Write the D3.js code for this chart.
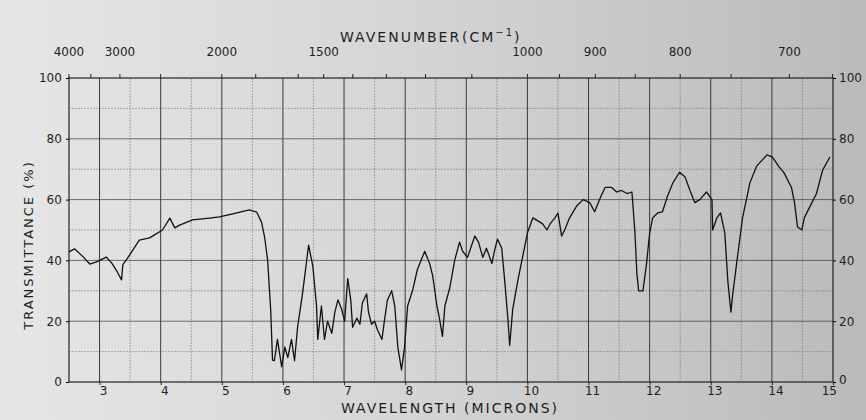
<!DOCTYPE html>
<html>

<head>
    <meta charset="UTF-8">
    <title>IR spectrum</title>
    <style>
        body {
            margin: 0;
            background: #d4d4d4;
        }

        svg text {
            font-family: "DejaVu Sans", sans-serif;
            fill: #1e1e1e;
        }

        .grid-major {
            stroke: #3a3a3a;
            stroke-width: 1;
        }

        .grid-minor {
            stroke: #7a7a7a;
            stroke-width: 0.6;
            stroke-dasharray: 2 1;
        }

        .spectrum {
            fill: none;
            stroke: #111;
            stroke-width: 1.3;
            stroke-linejoin: round;
        }
    </style>
</head>

<body>
    <div class="chartBox"></div>

    <script src="https://d3js.org/d3.v7.min.js"></script>
    <script>
        // wavelength (microns) and transmittance (%)
        const wavelength = [
            2.50, 2.59, 2.72, 2.84, 2.95, 3.11, 3.20, 3.29, 3.36, 3.38, 3.46, 3.65, 3.82, 4.03, 4.15, 4.23,
            4.31, 4.52, 4.80, 4.96, 5.18, 5.45, 5.57, 5.65, 5.70, 5.75, 5.80, 5.83, 5.86, 5.91, 5.98, 6.03,
            6.08, 6.14, 6.19, 6.24, 6.32, 6.42, 6.49, 6.55, 6.57, 6.63, 6.68, 6.73, 6.80, 6.85, 6.90, 6.96,
            7.01, 7.06, 7.11, 7.14, 7.21, 7.26, 7.30, 7.37, 7.40, 7.45, 7.50, 7.55, 7.62, 7.66, 7.71, 7.78,
            7.83, 7.88, 7.94, 7.99, 8.04, 8.12, 8.20, 8.32, 8.40, 8.45, 8.52, 8.56, 8.61, 8.65, 8.73, 8.81,
            8.89, 8.94, 9.02, 9.14, 9.20, 9.27, 9.33, 9.42, 9.46, 9.51, 9.58, 9.63, 9.68, 9.71, 9.76, 9.84,
            9.92, 10.00, 10.09, 10.17, 10.25, 10.32, 10.37, 10.45, 10.50, 10.56, 10.61, 10.69, 10.81, 10.91, 11.02, 11.10,
            11.18, 11.27, 11.38, 11.46, 11.54, 11.63, 11.71, 11.72, 11.76, 11.79, 11.82, 11.89, 11.95, 12.00, 12.05, 12.13,
            12.21, 12.29, 12.38, 12.49, 12.58, 12.66, 12.74, 12.82, 12.93, 13.02, 13.03, 13.10, 13.16, 13.23, 13.28, 13.33,
            13.36, 13.43, 13.52, 13.64, 13.75, 13.92, 14.01, 14.12, 14.20, 14.32, 14.37, 14.42, 14.49, 14.53, 14.62, 14.73,
            14.83, 14.95
        ];
        const transmittance = [
            42.8, 43.8, 41.4, 38.8, 39.5, 41.1, 39.1, 36.2, 33.6, 38.5, 40.8, 46.7, 47.4, 50.0, 53.9, 50.7,
            51.6, 53.3, 53.9, 54.3, 55.3, 56.6, 55.9, 52.6, 47.7, 40.1, 23.7, 7.2, 7, 14, 5, 11.5,
            8, 14, 7, 18, 29, 45, 38, 25, 14, 25, 14, 20, 16, 23, 27, 24,
            20, 34, 27, 18, 21, 19, 26, 29, 23, 19, 20, 17, 14, 20, 27, 30,
            25, 11.5, 4, 11.5, 25, 30, 37, 43, 39, 35, 25, 21, 15, 25, 31, 40,
            46, 43, 41, 48, 46, 41, 44, 39, 43, 47, 44, 33, 21, 12, 24, 33,
            41, 49, 54, 53, 52, 50, 52, 54, 55.6, 48, 50, 54, 58, 60, 59, 56,
            60, 64, 64, 62.5, 63, 62, 62.5, 60, 49, 36, 30, 30, 39, 49, 54, 55.6,
            56, 61, 65.5, 69, 67.4, 63, 59, 60, 62.5, 60, 50, 54, 55.6, 49, 33, 23,
            29, 40, 54, 65.5, 71, 74.7, 74, 70.7, 68.8, 64, 59, 51, 50, 54, 57.6, 62,
            69.7, 74
        ];

        // axis ticks
        const micronTicks = [3, 4, 5, 6, 7, 8, 9, 10, 11, 12, 13, 14, 15];
        const percentTicks = [0, 20, 40, 60, 80, 100];
        const wavenumberLabels = [4000, 3000, 2000, 1500, 1000, 900, 800, 700];
        const wavenumberTicks = [4000, 3500, 3000, 2500, 2000, 1800, 1600, 1500, 1400, 1300, 1200, 1100,
            1000, 950, 900, 850, 800, 750, 700, 667];

        // Dimensions
        const width = 866, height = 420,
            plot = { left: 69, right: 833, top: 78, bottom: 382 };

        const svg = d3.select(".chartBox")
            .append("svg")
            .attr("width", width)
            .attr("height", height);

        // scanned paper tone, darker to the right
        const grad = svg.append("defs").append("linearGradient")
            .attr("id", "paper");
        grad.append("stop").attr("offset", "0%").attr("stop-color", "#e6e6e6");
        grad.append("stop").attr("offset", "45%").attr("stop-color", "#d6d6d6");
        grad.append("stop").attr("offset", "100%").attr("stop-color", "#bababa");
        svg.append("rect")
            .attr("width", width)
            .attr("height", height)
            .attr("fill", "url(#paper)");

        // scales
        const x = d3.scaleLinear()
            .domain([2.5, 15])
            .range([plot.left, plot.right]);

        const y = d3.scaleLinear()
            .domain([0, 100])
            .range([plot.bottom, plot.top]);

        // grid
        const grid = svg.append("g");
        grid.selectAll(".vminor")
            .data(d3.range(3.5, 15, 1))
            .enter().append("line")
            .attr("class", "grid-minor")
            .attr("x1", d => x(d)).attr("x2", d => x(d))
            .attr("y1", plot.top).attr("y2", plot.bottom);
        grid.selectAll(".hminor")
            .data(d3.range(10, 100, 20))
            .enter().append("line")
            .attr("class", "grid-minor")
            .attr("x1", plot.left).attr("x2", plot.right)
            .attr("y1", d => y(d)).attr("y2", d => y(d));
        grid.selectAll(".vmajor")
            .data(micronTicks.slice(0, -1))
            .enter().append("line")
            .attr("class", "grid-major")
            .attr("x1", d => x(d)).attr("x2", d => x(d))
            .attr("y1", plot.top).attr("y2", plot.bottom);
        grid.selectAll(".hmajor")
            .data(percentTicks.slice(1, -1))
            .enter().append("line")
            .attr("class", "grid-major")
            .attr("stroke-opacity", 0.7)
            .attr("x1", plot.left).attr("x2", plot.right)
            .attr("y1", d => y(d)).attr("y2", d => y(d));

        // frame
        svg.append("rect")
            .attr("x", plot.left)
            .attr("y", plot.top)
            .attr("width", plot.right - plot.left)
            .attr("height", plot.bottom - plot.top)
            .attr("fill", "none")
            .attr("stroke", "#222")
            .attr("stroke-width", 1.2);

        // spectrum
        const points = wavelength.map((w, i) => [w, transmittance[i]]);
        svg.append("path")
            .datum(points)
            .attr("class", "spectrum")
            .attr("d", d3.line().x(d => x(d[0])).y(d => y(d[1])));

        // bottom axis: wavelength
        svg.append("g")
            .attr("transform", `translate(0, ${plot.bottom})`)
            .call(d3.axisBottom(x).tickValues(micronTicks).tickSize(3).tickFormat(d3.format("d")))
            .call(g => g.select(".domain").remove())
            .call(g => g.selectAll("line").attr("stroke", "#222"))
            .call(g => g.selectAll("text").attr("font-size", 12).attr("dy", "0.55em")
                .attr("dx", d => d === 15 ? "-0.35em" : "0.3em")
                .style("font-family", "DejaVu Sans, sans-serif"));

        // top axis: wavenumber
        const topAxis = svg.append("g")
            .attr("transform", `translate(0, ${plot.top})`);
        topAxis.selectAll("line")
            .data(wavenumberTicks)
            .enter().append("line")
            .attr("x1", d => x(1e4 / d)).attr("x2", d => x(1e4 / d))
            .attr("y1", -4).attr("y2", 0)
            .attr("stroke", "#222");
        topAxis.selectAll("text")
            .data(wavenumberLabels)
            .enter().append("text")
            .attr("x", d => x(1e4 / d))
            .attr("y", -22)
            .attr("text-anchor", "middle")
            .attr("font-size", 12)
            .text(d => d);

        // left and right percent axes
        svg.append("g")
            .attr("transform", `translate(${plot.left}, 0)`)
            .call(d3.axisLeft(y).tickValues(percentTicks).tickSize(3))
            .call(g => g.select(".domain").remove())
            .call(g => g.selectAll("text").attr("font-size", 12).attr("dx", "-0.1em")
                .style("font-family", "DejaVu Sans, sans-serif"));
        svg.append("g")
            .attr("transform", `translate(${plot.right}, 0)`)
            .call(d3.axisRight(y).tickValues(percentTicks).tickSize(3))
            .call(g => g.select(".domain").remove())
            .call(g => g.selectAll("text").attr("font-size", 12)
                .attr("dy", d => d === 0 ? "0.1em" : "0.32em")
                .style("font-family", "DejaVu Sans, sans-serif"));

        // titles
        svg.append("text")
            .attr("x", 340)
            .attr("y", 42)
            .attr("font-size", 14)
            .attr("letter-spacing", 2)
            .text("WAVENUMBER");
        svg.append("text")
            .attr("x", 462)
            .attr("y", 42)
            .attr("font-size", 14)
            .attr("letter-spacing", 2)
            .html("(CM<tspan dy='-6' font-size='10'>−1</tspan><tspan dy='6'>)</tspan>");
        svg.append("text")
            .attr("x", 450)
            .attr("y", 413)
            .attr("text-anchor", "middle")
            .attr("font-size", 14)
            .attr("letter-spacing", 2)
            .text("WAVELENGTH (MICRONS)");
        svg.append("text")
            .attr("transform", "translate(33, 245) rotate(-90)")
            .attr("text-anchor", "middle")
            .attr("font-size", 13)
            .attr("letter-spacing", 2)
            .text("TRANSMITTANCE (%)");
    </script>
</body>

</html>
